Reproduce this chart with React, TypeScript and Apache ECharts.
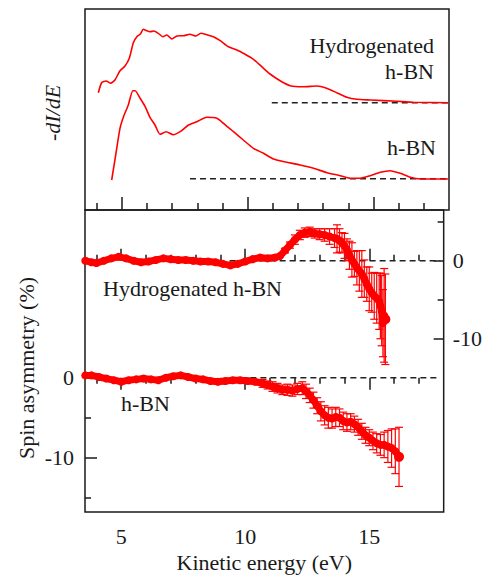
import React, { useEffect, useRef } from 'react';
import * as echarts from 'echarts';

// ---- axis ticks / labels ----
const xMajorTicks = [5, 10, 15];
const xMinorTicks = [4, 6, 7, 8, 9, 11, 12, 13, 14, 16, 17];
const leftMajorTicks = [0, -10];
const leftMinorTicks = [-5, -15];
const rightMajorTicks = [0, -10];
const rightMinorTicks = [5, -5];

// ---- top panel: -dI/dE (arbitrary units) ----
const hydroDidE_E = [4.07, 4.2, 4.38, 4.56, 4.73, 4.93, 5.13, 5.3, 5.46, 5.6, 5.73, 5.86, 5.99, 6.12, 6.28, 6.45, 6.63, 6.79, 6.99, 7.19, 7.45, 7.71, 7.95, 8.14, 8.38, 8.64, 8.91, 9.24, 9.57, 9.9, 10.23, 10.56, 10.89, 11.29, 11.69, 12.22, 12.75, 13.14, 13.54, 13.94, 14.34, 14.87, 15.93, 16.59, 17.98];
const hydroDidE_V = [117.3, 127.3, 129, 126.7, 130, 139.3, 144, 151.7, 167.3, 173.3, 175.7, 180.7, 179.3, 178.3, 179, 176.7, 173.3, 175, 171, 174, 174.3, 175.7, 174, 176.7, 175.3, 173.3, 169.3, 163.3, 160, 155.7, 150.7, 143.3, 136, 129.3, 124.3, 123.3, 124, 121.7, 117.3, 112.7, 110.7, 110, 108.7, 107.7, 107.3];
const hbnDidE_E = [4.6, 4.77, 4.93, 5.07, 5.26, 5.44, 5.53, 5.73, 5.93, 6.12, 6.32, 6.52, 6.76, 7.05, 7.32, 7.65, 7.98, 8.38, 8.78, 9.04, 9.44, 9.83, 10.23, 10.63, 11.03, 11.56, 12.09, 12.62, 13.15, 13.68, 14.07, 14.47, 14.87, 15.27, 15.66, 16.06, 16.46, 16.86, 17.98];
const hbnDidE_V = [30, 56.7, 81.7, 93.3, 105, 119.3, 119.3, 111.7, 103.3, 92.7, 85, 75.7, 78.3, 75.3, 78.3, 85, 88.3, 92.7, 91.7, 86.7, 78.3, 70, 61.7, 56.7, 51, 47.7, 45, 41.7, 37.3, 34.3, 31.7, 31.7, 34.3, 37.7, 39.3, 36.7, 32.7, 31, 31];
const hydroDidE_baseline = { from: 10.96, to: 18, level: 107.3 };
const hbnDidE_baseline = { from: 7.71, to: 18, level: 31.3 };

// ---- bottom panel: spin asymmetry (%) ----
const hydroSpinE = [3.55, 3.8, 4.0, 4.3, 4.6, 4.9, 5.2, 5.5, 5.8, 6.1, 6.4, 6.7, 7.0, 7.3, 7.6, 7.9, 8.2, 8.5, 8.8, 9.1, 9.4, 9.7, 10.0, 10.3, 10.6, 10.9, 11.2, 11.4, 11.6, 11.8, 12.0, 12.2, 12.4, 12.6, 12.8, 13.0, 13.2, 13.4, 13.6, 13.7, 13.8, 13.9, 14.0, 14.1, 14.2, 14.3, 14.4, 14.5, 14.6, 14.7, 14.8, 14.9, 15.0, 15.1, 15.2, 15.3, 15.4, 15.45, 15.5, 15.55, 15.6, 15.65];
const hydroSpinV = [0.0, -0.2, -0.3, 0.0, 0.3, 0.5, 0.3, 0.0, -0.2, -0.1, 0.1, 0.3, 0.2, 0.1, 0.1, 0.0, -0.1, -0.1, -0.2, -0.4, -0.6, -0.4, -0.1, 0.2, 0.4, 0.3, 0.4, 0.6, 1.3, 2.0, 2.7, 3.3, 3.6, 3.7, 3.5, 3.4, 3.3, 3.1, 2.9, 2.8, 2.6, 2.3, 1.9, 1.4, 0.7, 0.1, -0.4, -0.9, -1.3, -1.7, -2.3, -3.0, -3.6, -4.1, -4.5, -4.8, -5.2, -5.8, -6.4, -8.0, -7.0, -7.5];
const hydroSpinErr = [0, 0, 0, 0, 0, 0, 0, 0, 0, 0, 0, 0, 0, 0, 0, 0, 0, 0, 0, 0, 0, 0, 0, 0, 0, 0, 0, 0, 0.3, 0.4, 0.6, 0.6, 0.6, 0.6, 0.6, 0.7, 0.8, 1.0, 1.2, 1.8, 1.5, 1.3, 1.6, 1.4, 1.8, 2.2, 1.6, 2.2, 2.6, 3.0, 2.4, 2.2, 2.8, 2.5, 3.0, 3.2, 3.6, 4.2, 4.5, 4.3, 6.0, 5.8];

const hbnSpinE = [3.55, 3.8, 4.1, 4.4, 4.7, 5.0, 5.3, 5.6, 5.9, 6.2, 6.5, 6.8, 7.1, 7.4, 7.7, 8.0, 8.3, 8.6, 8.9, 9.2, 9.5, 9.8, 10.1, 10.4, 10.7, 10.9, 11.1, 11.3, 11.5, 11.7, 11.9, 12.1, 12.3, 12.45, 12.6, 12.75, 12.9, 13.05, 13.2, 13.35, 13.5, 13.65, 13.8, 13.95, 14.1, 14.25, 14.4, 14.55, 14.7, 14.85, 15.0, 15.15, 15.3, 15.45, 15.6, 15.75, 15.9, 16.05, 16.2];
const hbnSpinV = [0.3, 0.3, 0.1, -0.1, -0.3, -0.5, -0.3, -0.2, -0.1, -0.2, -0.3, 0.0, 0.2, 0.3, 0.1, -0.1, -0.2, -0.4, -0.5, -0.4, -0.3, -0.3, -0.4, -0.5, -0.7, -0.9, -1.1, -1.3, -1.5, -1.5, -1.6, -1.4, -1.3, -1.7, -2.2, -2.8, -3.5, -4.2, -4.7, -5.0, -5.1, -4.9, -5.0, -5.4, -5.6, -5.5, -5.8, -6.2, -6.7, -7.2, -7.5, -7.9, -8.2, -8.4, -8.4, -8.6, -8.8, -9.2, -9.9];
const hbnSpinErr = [0, 0, 0, 0, 0, 0, 0, 0, 0, 0, 0, 0, 0, 0, 0, 0, 0, 0, 0, 0, 0, 0, 0, 0, 0.5, 0.5, 0.6, 0.6, 0.6, 0.7, 0.7, 0.7, 0.8, 0.9, 0.9, 1.0, 1.0, 1.2, 1.2, 1.3, 1.2, 1.2, 1.1, 1.1, 1.1, 1.0, 1.0, 1.0, 1.0, 1.0, 1.0, 1.1, 1.2, 1.3, 1.6, 2.0, 2.4, 2.8, 3.7];
const hydroSpinBaseline = { from: 9.37, to: 17.86, level: 0 };
const hbnSpinBaseline = { from: 9.4, to: 17.86, level: 0 };

const RED = '#ff0000';
const INK = '#1a1a1a';
const FONT = 'Liberation Serif, Times New Roman, serif';
const X_MIN = 3.54;
const X_MAX = 18;

const zip = (a: number[], b: number[]) => a.map((v, i) => [v, b[i]]);
const zip3 = (a: number[], b: number[], c: number[]) =>
  a.map((v, i) => [v, b[i], c[i]]).filter((d) => d[2] > 0);

const tickLine = { color: INK, width: 1.5 };

function xAxis(gridIndex: number, position: string, ticks: number[], length: number, labels?: number[], name?: string) {
  return {
    type: 'value',
    gridIndex,
    position,
    min: X_MIN,
    max: X_MAX,
    axisLine: { show: false },
    splitLine: { show: false },
    axisTick: { show: true, inside: true, length, customValues: ticks, lineStyle: tickLine },
    axisLabel: labels
      ? { show: true, customValues: labels, fontSize: 22, fontFamily: FONT, color: INK, margin: 13 }
      : { show: false },
    name: name || '',
    nameLocation: 'middle',
    nameGap: 38,
    nameTextStyle: { fontSize: 22, fontFamily: FONT, color: INK },
  };
}

function yAxis(gridIndex: number, position: string, min: number, max: number, ticks: number[], length: number, labels?: number[], margin = 10) {
  return {
    type: 'value',
    gridIndex,
    position,
    min,
    max,
    axisLine: { show: false },
    splitLine: { show: false },
    axisTick: { show: ticks.length > 0, inside: true, length, customValues: ticks.length ? ticks : undefined, lineStyle: tickLine },
    axisLabel: labels
      ? { show: true, customValues: labels, fontSize: 22, fontFamily: FONT, color: INK, margin }
      : { show: false },
  };
}

const dashed = (x: number, y: number, b: { from: number; to: number; level: number }) => ({
  type: 'line',
  xAxisIndex: x,
  yAxisIndex: y,
  data: [[b.from, b.level], [b.to, b.level]],
  showSymbol: false,
  symbol: 'none',
  silent: true,
  lineStyle: { color: '#222', width: 1.6, type: [6, 4] },
  z: 1,
});

const errorBars = (x: number, y: number, data: number[][]) => ({
  type: 'custom',
  xAxisIndex: x,
  yAxisIndex: y,
  data,
  encode: { x: 0, y: 1 },
  z: 3,
  renderItem: (params: any, api: any) => {
    const xv = api.value(0);
    const yv = api.value(1);
    const e = api.value(2);
    const top = api.coord([xv, yv + e]);
    const bot = api.coord([xv, yv - e]);
    const hw = 4;
    const style = { stroke: RED, lineWidth: 1.2 };
    return {
      type: 'group',
      children: [
        { type: 'line', shape: { x1: top[0], y1: top[1], x2: bot[0], y2: bot[1] }, style },
        { type: 'line', shape: { x1: top[0] - hw, y1: top[1], x2: top[0] + hw, y2: top[1] }, style },
        { type: 'line', shape: { x1: bot[0] - hw, y1: bot[1], x2: bot[0] + hw, y2: bot[1] }, style },
      ],
    };
  },
});

const spinSeries = (y: number, data: number[][]) => ({
  type: 'line',
  xAxisIndex: 4,
  yAxisIndex: y,
  data,
  symbol: 'circle',
  symbolSize: (_v: any, p: any) => (p.dataIndex === data.length - 1 ? 10 : 8),
  showAllSymbol: true,
  itemStyle: { color: RED },
  lineStyle: { color: RED, width: 7 },
  z: 4,
});

const textEl = (text: string, x: number, y: number, align: string, opts: { rotation?: number; italic?: boolean } = {}) => ({
  type: 'text',
  x,
  y,
  rotation: opts.rotation || 0,
  silent: true,
  style: {
    text,
    fill: INK,
    font: `${opts.italic ? 'italic ' : ''}22px ${FONT}`,
    fontSize: 22,
    fontFamily: FONT,
    fontStyle: opts.italic ? 'italic' : 'normal',
    align,
    verticalAlign: 'middle',
  },
});

const option: any = {
  animation: false,
  backgroundColor: '#fff',
  grid: [
    { left: 85, top: 9, width: 364, height: 201, show: true, borderColor: INK, borderWidth: 1.5, backgroundColor: 'transparent' },
    { left: 85, top: 210, width: 364, height: 302, show: true, borderColor: INK, borderWidth: 1.5, backgroundColor: 'transparent' },
  ],
  xAxis: [
    xAxis(0, 'bottom', xMajorTicks, 13),
    xAxis(0, 'bottom', xMinorTicks, 7),
    xAxis(1, 'top', xMajorTicks, 12),
    xAxis(1, 'top', xMinorTicks, 6),
    xAxis(1, 'bottom', xMajorTicks, 12, xMajorTicks, 'Kinetic energy (eV)'),
    xAxis(1, 'bottom', xMinorTicks, 6),
  ],
  yAxis: [
    yAxis(0, 'left', 0, 201, [], 0),
    yAxis(1, 'left', -16.8, 21, leftMajorTicks, 12, leftMajorTicks, 11),
    yAxis(1, 'left', -16.8, 21, leftMinorTicks, 6),
    yAxis(1, 'right', -32.2, 6.5, rightMajorTicks, 10, rightMajorTicks, 9),
    yAxis(1, 'right', -32.2, 6.5, rightMinorTicks, 6),
  ],
  graphic: {
    elements: [
      textEl('Hydrogenated', 434, 45, 'right'),
      textEl('h-BN', 434, 71, 'right'),
      textEl('h-BN', 436, 147, 'right'),
      textEl('Hydrogenated h-BN', 103, 288, 'left'),
      textEl('h-BN', 121, 403, 'left'),
      textEl('-dI/dE', 52, 113, 'center', { rotation: Math.PI / 2, italic: true }),
      textEl('Spin asymmetry (%)', 26, 368, 'center', { rotation: Math.PI / 2 }),
    ],
  },
  series: [
    dashed(0, 0, hydroDidE_baseline),
    dashed(0, 0, hbnDidE_baseline),
    {
      type: 'line', xAxisIndex: 0, yAxisIndex: 0, data: zip(hydroDidE_E, hydroDidE_V),
      showSymbol: false, symbol: 'none', smooth: 0.2, lineStyle: { color: RED, width: 1.6 }, z: 2,
    },
    {
      type: 'line', xAxisIndex: 0, yAxisIndex: 0, data: zip(hbnDidE_E, hbnDidE_V),
      showSymbol: false, symbol: 'none', smooth: 0.2, lineStyle: { color: RED, width: 1.6 }, z: 2,
    },
    dashed(4, 3, hydroSpinBaseline),
    dashed(4, 1, hbnSpinBaseline),
    errorBars(4, 3, zip3(hydroSpinE, hydroSpinV, hydroSpinErr)),
    errorBars(4, 1, zip3(hbnSpinE, hbnSpinV, hbnSpinErr)),
    spinSeries(3, zip(hydroSpinE, hydroSpinV)),
    spinSeries(1, zip(hbnSpinE, hbnSpinV)),
  ],
};

export default function App() {
  const ref = useRef<HTMLDivElement>(null);
  useEffect(() => {
    if (!ref.current) return;
    const chart = echarts.init(ref.current, null, { renderer: 'svg' });
    chart.setOption(option);
    return () => chart.dispose();
  }, []);
  return (
    <div
      ref={ref}
      style={{ position: 'absolute', left: 0, top: 0, width: 485, height: 582, background: '#fff' }}
    />
  );
}
